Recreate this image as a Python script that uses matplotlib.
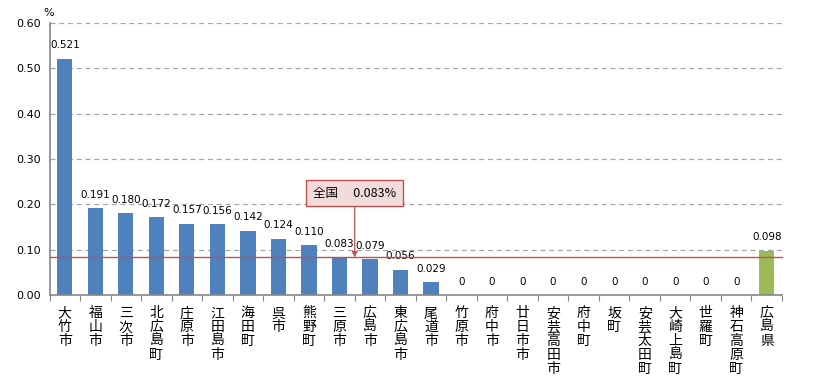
import matplotlib
matplotlib.use("Agg")
import matplotlib.pyplot as plt

plt.rcParams['font.family'] = ['Noto Sans CJK JP', 'DejaVu Sans']

categories = ["大竹市", "福山市", "三次市", "北広島町", "庄原市", "江田島市", "海田町", "呉市",
              "熊野町", "三原市", "広島市", "東広島市", "尾道市", "竹原市", "府中市", "廿日市市",
              "安芸高田市", "府中町", "坂町", "安芸太田町", "大崎上島町", "世羅町", "神石高原町", "広島県"]
values = [0.521, 0.191, 0.180, 0.172, 0.157, 0.156, 0.142, 0.124, 0.110, 0.083, 0.079, 0.056,
          0.029, 0, 0, 0, 0, 0, 0, 0, 0, 0, 0, 0.098]
labels = ["0.521", "0.191", "0.180", "0.172", "0.157", "0.156", "0.142", "0.124", "0.110", "0.083",
          "0.079", "0.056", "0.029", "0", "0", "0", "0", "0", "0", "0", "0", "0", "0", "0.098"]
national = 0.083
national_label = "全国　 0.083%"
yticks = [0.0, 0.1, 0.2, 0.3, 0.4, 0.5, 0.6]

fig = plt.figure(figsize=(8.13, 3.79), dpi=100)
ax = fig.add_axes([49.5 / 813, 1 - 295 / 379, (782 - 49.5) / 813, (295 - 23) / 379])

n = len(categories)
colors = ['#4f81bd'] * (n - 1) + ['#9bbb59']
x = list(range(n))
ax.bar(x, values, width=0.5, color=colors, zorder=2)
for xi, v, lab in zip(x, values, labels):
    ax.annotate(lab, xy=(xi, v), xytext=(0, 6), textcoords='offset points',
                ha='center', va='bottom', fontsize=7.5, family='DejaVu Sans')

ax.set_xlim(-0.5, n - 0.5)
ax.set_ylim(0, 0.6)
ax.set_yticks(yticks)
ax.set_yticklabels([f"{t:.2f}" for t in yticks], fontsize=8, family='DejaVu Sans')
ax.yaxis.grid(True, linestyle=(0, (4, 3)), color='#a6a6a6', linewidth=0.9, zorder=0)
ax.set_axisbelow(True)

ax.set_xticks([i + 0.5 for i in range(n - 1)] + [-0.5, n - 0.5])
ax.set_xticklabels([])
ax.tick_params(axis='x', length=4, direction='out', color='#868686')
ax.tick_params(axis='y', length=0, pad=6)
for i, c in enumerate(categories):
    ax.text(i, -0.025, "\n".join(c), ha='center', va='top', fontsize=10, linespacing=1.0,
            transform=ax.transData, clip_on=False)

for s in ['top', 'right']:
    ax.spines[s].set_visible(False)
for s in ['left', 'bottom']:
    ax.spines[s].set_color('#868686')
    ax.spines[s].set_linewidth(1.2)

ax.axhline(national, color='#c0504d', linewidth=1.0, zorder=3, clip_on=False)

ax.annotate(national_label, xy=(9.5, national), xytext=(9.5, 0.225),
            ha='center', va='center', fontsize=9,
            bbox=dict(boxstyle='square,pad=0.55', fc='#f2dcdb', ec='#c0504d', lw=1.0),
            arrowprops=dict(arrowstyle='-|>', color='#c0504d', lw=0.9, mutation_scale=8,
                            shrinkA=0, shrinkB=0),
            zorder=5)

fig.text(43 / 813, 1 - 13 / 379, "%", fontsize=8, ha='left', va='center', family='DejaVu Sans')

fig.savefig("out.png", dpi=100)
